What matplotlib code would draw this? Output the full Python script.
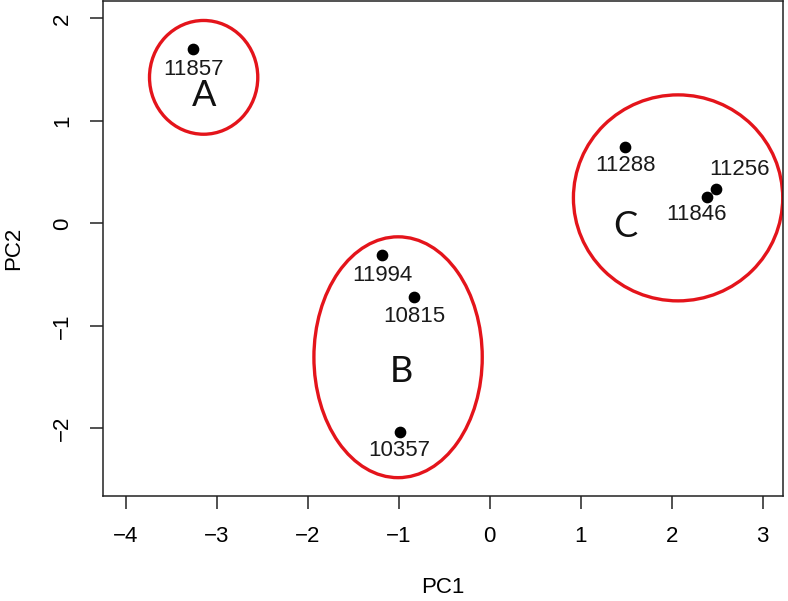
import matplotlib
matplotlib.use("Agg")
import matplotlib.pyplot as plt
from matplotlib.patches import Ellipse

# sample scores on the first two PCs
samples = ["11857", "11288", "11256", "11846", "11994", "10815", "10357"]
pc1 = [-3.26, 1.49, 2.49, 2.39, -1.18, -0.83, -0.99]
pc2 = [1.70, 0.75, 0.335, 0.26, -0.31, -0.72, -2.04]
# label offsets in pixels (dx, dy)
label_off = [(0, -20), (0, -19), (23, 20), (-11, -18), (0, -20), (0, -19), (0, -18)]

# groups: letter, ellipse centre / size, letter position
groups = ["A", "B", "C"]
ell_x = [-3.144, -1.007, 2.07]
ell_y = [1.425, -1.306, 0.249]
ell_w = [1.19, 1.85, 2.30]
ell_h = [1.11, 2.35, 2.01]
letter_x = [-3.14, -0.97, 1.49]
letter_y = [1.25, -1.45, -0.03]

plt.rcParams["font.family"] = ["Liberation Sans", "DejaVu Sans"]

fig = plt.figure(figsize=(7.88, 6.01), dpi=100)
ax = fig.add_axes([103 / 788, 1 - 496 / 601, (782.7 - 103) / 788, 495 / 601])

ax.scatter(pc1, pc2, s=55, color="black", zorder=3)
for name, x, y, (dx, dy) in zip(samples, pc1, pc2, label_off):
    ax.annotate(name, (x, y), xytext=(dx, dy), textcoords="offset pixels",
                ha="center", va="center", fontsize=16, color="#1a1a1a")

for g, cx, cy, w, h, lx, ly in zip(groups, ell_x, ell_y, ell_w, ell_h, letter_x, letter_y):
    ax.add_patch(Ellipse((cx, cy), w, h, fill=False, edgecolor="#e4141b", lw=2.4))
    ax.text(lx, ly, g, ha="center", va="center", fontsize=26,
            family=["Lato", "DejaVu Sans"], color="#111111")

ax.set_xlim(-4.25, 3.22)
ax.set_ylim(-2.66, 2.17)
ax.set_xticks(range(-4, 4))
ax.set_yticks(range(-2, 3))
ax.set_xticklabels(["\u22124", "\u22123", "\u22122", "\u22121", "0", "1", "2", "3"])
ax.set_yticklabels(["\u22122", "\u22121", "0", "1", "2"], rotation=90, va="center")
ax.tick_params(length=9.5, width=1.1, labelsize=16, pad=12, color="#222222")
for sp in ax.spines.values():
    sp.set_linewidth(1.1)
    sp.set_color("#222222")

ax.set_xlabel("PC1", fontsize=16, labelpad=22)
ax.set_ylabel("PC2", fontsize=16, labelpad=20)

fig.savefig("out.png", dpi=100)
